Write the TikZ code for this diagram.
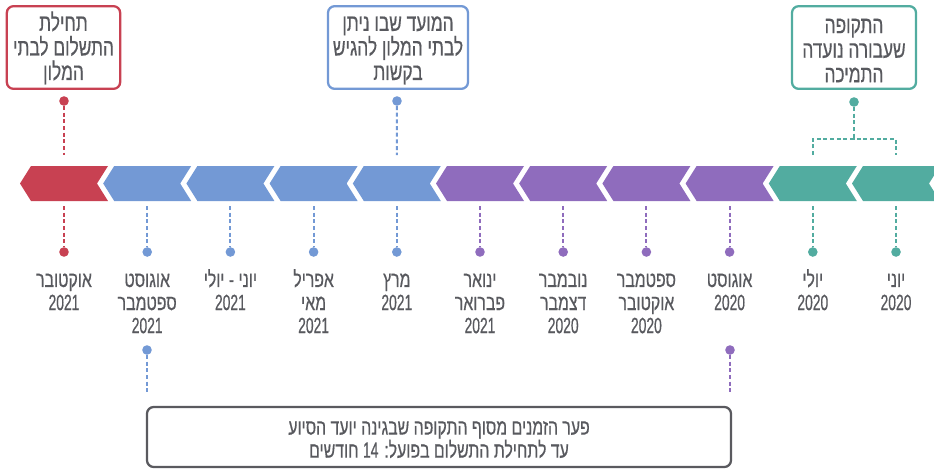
\documentclass[tikz,border=0pt]{standalone}
\usepackage{fontspec}
\setmainfont[Script=Hebrew, FakeStretch=0.63, FakeBold=0.5]{Liberation Sans}
\newfontfamily\hebfont[Script=Hebrew, FakeStretch=0.72, FakeBold=0.5]{Liberation Sans}
\TeXXeTstate=1
\lineskiplimit=-20pt
\usetikzlibrary{positioning}
\definecolor{payred}{RGB}{200, 65, 82}
\definecolor{monthblue}{RGB}{115, 153, 213}
\definecolor{monthpurple}{RGB}{143, 108, 189}
\definecolor{aidgreen}{RGB}{82, 172, 160}
\definecolor{textgray}{RGB}{88, 89, 94}
\definecolor{framegray}{RGB}{90, 90, 95}
\newcommand{\heb}[1]{{\hebfont\beginR\rule{0pt}{0.85em}#1\endR}}

\begin{document}
\begin{tikzpicture}[x=0.75pt, y=-0.75pt,
  tbox/.style={draw, line width=1.7pt, rounded corners=5pt, minimum height=62pt, align=center, text=textgray, font=\fontsize{18}{18.4}\selectfont, inner sep=0pt},
  dot/.style={circle, fill, inner sep=0pt, minimum size=7.2pt},
  dline/.style={line width=1.5pt, dash pattern=on 3pt off 2pt},
  mlabel/.style={align=center, text=textgray, font=\fontsize{16.5}{17.3}\selectfont, inner sep=0pt}
]
  \clip (0,0) rectangle (934,468);

  % Timeline bar
  \foreach \i/\col in {0/payred, 1/monthblue, 2/monthblue, 3/monthblue, 4/monthblue, 5/monthpurple, 6/monthpurple, 7/monthpurple, 8/monthpurple, 9/aidgreen, 10/aidgreen} {
    \fill[\col] ({20+83.2*\i}, 183.5) -- ++(11, -17.5) -- ++(77, 0) -- ++(-11, 17.5) -- ++(11, 17.5) -- ++(-77, 0) -- cycle;
    \coordinate (up\i) at ({64+83.2*\i}, 155);
    \coordinate (dn\i) at ({64+83.2*\i}, 206);
    \node[dot, \col] (md\i) at ({64+83.2*\i}, 252) {};
    \draw[dline, \col] (dn\i) -- (md\i);
  }

  % Month labels
  \node[mlabel, below=8.2pt of md0] (m0) {\heb{אוקטובר}\\2021};
  \node[mlabel, below=8.2pt of md1] (m1) {\heb{אוגוסט}\\\heb{ספטמבר}\\2021};
  \node[mlabel, below=8.2pt of md2] (m2) {\heb{יוני - יולי}\\2021};
  \node[mlabel, below=8.2pt of md3] (m3) {\heb{אפריל}\\\heb{מאי}\\2021};
  \node[mlabel, below=8.2pt of md4] (m4) {\heb{מרץ}\\2021};
  \node[mlabel, below=8.2pt of md5] (m5) {\heb{ינואר}\\\heb{פברואר}\\2021};
  \node[mlabel, below=8.2pt of md6] (m6) {\heb{נובמבר}\\\heb{דצמבר}\\2020};
  \node[mlabel, below=8.2pt of md7] (m7) {\heb{ספטמבר}\\\heb{אוקטובר}\\2020};
  \node[mlabel, below=8.2pt of md8] (m8) {\heb{אוגוסט}\\2020};
  \node[mlabel, below=8.2pt of md9] (m9) {\heb{יולי}\\2020};
  \node[mlabel, below=8.2pt of md10] (m10) {\heb{יוני}\\2020};

  % Top callouts
  \node[tbox, draw=payred, minimum width=85pt] (start) at (63.5, 47.5) {\heb{תחילת}\\\heb{התשלום לבתי}\\\heb{המלון}};
  \node[dot, payred] (startdot) at (64, 101) {};
  \draw[dline, payred] (startdot) -- (up0);

  \node[tbox, draw=monthblue, minimum width=105pt] (apply) at (398, 47.5) {\heb{המועד שבו ניתן}\\\heb{לבתי המלון להגיש}\\\heb{בקשות}};
  \node[dot, monthblue] (applydot) at (397, 101) {};
  \draw[dline, monthblue] (applydot) -- (up4);

  \node[tbox, draw=aidgreen, minimum width=93pt] (period) at (854, 47.5) {\heb{התקופה}\\\heb{שעבורה נועדה}\\\heb{התמיכה}};
  \node[dot, aidgreen] (perioddot) at (854, 102) {};
  \coordinate (bracket) at (854, 139);
  \draw[dline, aidgreen] (perioddot) -- (bracket);
  \draw[dline, aidgreen] (up9) |- (bracket) -| (up10);

  % Gap box
  \node[dot, monthblue] (gapstart) at (147, 350) {};
  \node[dot, monthpurple] (gapend) at (730, 350) {};
  \coordinate (gs) at (147, 395);
  \coordinate (ge) at (730, 395);
  \draw[dline, monthblue] (gapstart) -- (gs);
  \draw[dline, monthpurple] (gapend) -- (ge);
  \node[tbox, draw=framegray, minimum width=438pt, minimum height=45pt, font=\fontsize{16.5}{17.3}\selectfont] (gap) at (439, 437) {\heb{פער הזמנים מסוף התקופה שבגינה יועד הסיוע}\\\heb{עד לתחילת התשלום בפועל: \beginL{\normalfont 14}\endL{} חודשים}};
\end{tikzpicture}
\end{document}
